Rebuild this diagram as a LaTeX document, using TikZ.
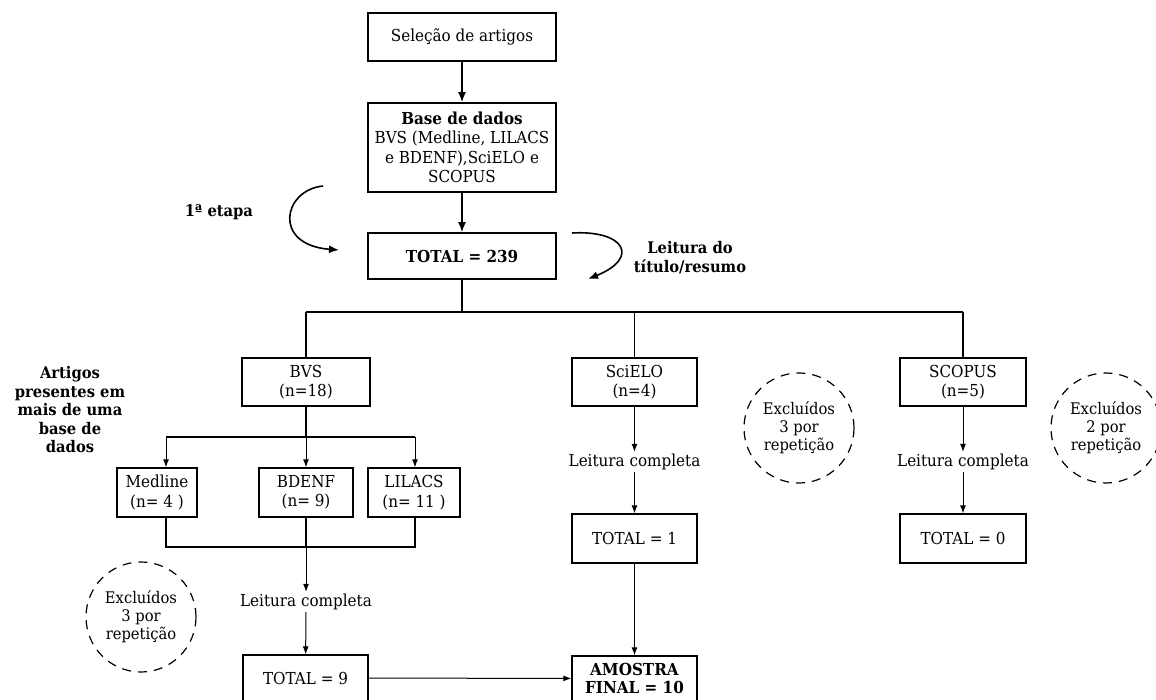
\documentclass[tikz,border=0pt]{standalone}
\usepackage{fontspec}
\setmainfont{DejaVu Serif}[FakeStretch=0.92]
\usetikzlibrary{arrows.meta}
\begin{document}
\begin{tikzpicture}[x=1pt,y=-1pt,
  font=\fontsize{16.5}{19.5}\selectfont,
  box/.style={draw, line width=1.3pt, inner sep=0pt, align=center},
  topbox/.style={box, line width=1.6pt, minimum width=188pt},
  lbl/.style={align=center, inner sep=2pt},
  circ/.style={draw, dashed, dash pattern=on 9pt off 7pt, line width=1.2pt, circle, minimum size=110pt, inner sep=0pt, align=center, font=\fontsize{16}{18}\selectfont},
  bigarr/.style={-{Latex[length=10pt,width=8pt]}, line width=1.6pt},
  arr/.style={-{Latex[length=8pt,width=6pt]}, line width=1pt},
  ln/.style={line width=1.4pt}
]
\useasboundingbox (0,0) rectangle (1156,700);

% top column
\node[topbox, minimum height=48pt] (sel) at (462,37) {Seleção de artigos};
\node[topbox, minimum height=89pt] (base) at (462,147.5) {\textbf{Base de dados}\\BVS (Medline, LILACS\\e BDENF),SciELO e\\SCOPUS};
\node[topbox, minimum height=46pt] (tot) at (462,256) {\textbf{TOTAL = 239}};
\draw[bigarr] (sel) -- (base);
\draw[bigarr] (base) -- (tot);

% side labels
\node[lbl, font=\fontsize{16}{19}\selectfont\bfseries] (etapa) at (219,212) {1ª etapa};
\node[lbl, font=\fontsize{16}{19}\selectfont\bfseries] (leit) at (690,257.5) {Leitura do\\título/resumo};
\coordinate (ea) at (323,186);
\coordinate (eb) at (339,250);
\draw[bigarr] (ea) .. controls (283,190) and (272,245) .. (eb);
\coordinate (la) at (572,233);
\coordinate (lb) at (588,279);
\draw[bigarr] (la) .. controls (625,230) and (640,258) .. (lb);

% second level
\node[box, minimum width=128pt, minimum height=48pt] (bvs) at (306,382) {BVS\\(n=18)};
\node[box, minimum width=125pt, minimum height=48pt] (scielo) at (634.5,382) {SciELO\\(n=4)};
\node[box, minimum width=126pt, minimum height=48pt] (scopus) at (963,382) {SCOPUS\\(n=5)};
\coordinate (br) at (462,312);
\draw[ln] (tot) -- (br);
\draw[ln] (bvs.north |- br) -- (scopus.north |- br);
\draw[ln] (bvs.north |- br) -- (bvs.north);
\draw[ln] (scielo.north |- br) -- (scielo.north);
\draw[ln] (scopus.north |- br) -- (scopus.north);

\node[lbl, font=\fontsize{16}{18.5}\selectfont\bfseries] (artigos) at (70,410) {Artigos\\presentes em\\mais de uma\\base de\\dados};

% BVS sub-boxes
\node[box, minimum width=80pt, minimum height=49pt] (medline) at (157,492.5) {Medline\\(n= 4 )};
\node[box, minimum width=94pt, minimum height=49pt] (bdenf) at (306,492.5) {BDENF\\(n= 9)};
\node[box, minimum width=92pt, minimum height=49pt] (lilacs) at (414,492.5) {LILACS\\(n= 11 )};
\coordinate (mj) at (166,437);
\coordinate (bj) at (306,437);
\coordinate (lj) at (415,437);
\draw[ln] (bvs) -- (bj);
\draw[ln] (mj) -- (lj);
\draw[arr] (mj) -- (mj |- medline.north);
\draw[arr] (bj) -- (bdenf.north);
\draw[arr] (lj) -- (lj |- lilacs.north);
\coordinate (mk) at (166,547);
\coordinate (bk) at (306,547);
\coordinate (lk) at (415,547);
\draw[ln] (mk |- medline.south) -- (mk) -- (lk) -- (lk |- lilacs.south);
\draw[ln] (bdenf) -- (bk);

% reading + totals
\node[lbl] (lc1) at (306,602) {Leitura completa};
\node[lbl] (lc2) at (634.5,462) {Leitura completa};
\node[lbl] (lc3) at (963,462) {Leitura completa};
\draw[arr] (bk) -- (lc1);
\draw[arr] (scielo) -- (lc2);
\draw[arr] (scopus) -- (lc3);

\node[box, minimum width=125pt, minimum height=46pt] (tot9) at (305.5,678) {TOTAL = 9};
\node[box, minimum width=125pt, minimum height=49pt] (tot1) at (634.5,538.5) {TOTAL = 1};
\node[box, minimum width=126pt, minimum height=49pt] (tot0) at (963,538.5) {TOTAL = 0};
\node[box, minimum width=125pt, minimum height=45pt] (amostra) at (634.5,678.5) {\textbf{AMOSTRA}\\[-2pt]\textbf{FINAL = 10}};
\draw[arr] (lc1) -- (tot9);
\draw[arr] (lc2) -- (tot1);
\draw[arr] (lc3) -- (tot0);
\draw[arr] (tot1) -- (amostra);
\draw[arr] (tot9) -- (amostra);

% exclusion circles
\node[circ] (ex1) at (799,428) {Excluídos\\3 por\\repetição};
\node[circ] (ex2) at (1106,428) {Excluídos\\2 por\\repetição};
\node[circ] (ex3) at (141,617) {Excluídos\\3 por\\repetição};
\end{tikzpicture}
\end{document}
